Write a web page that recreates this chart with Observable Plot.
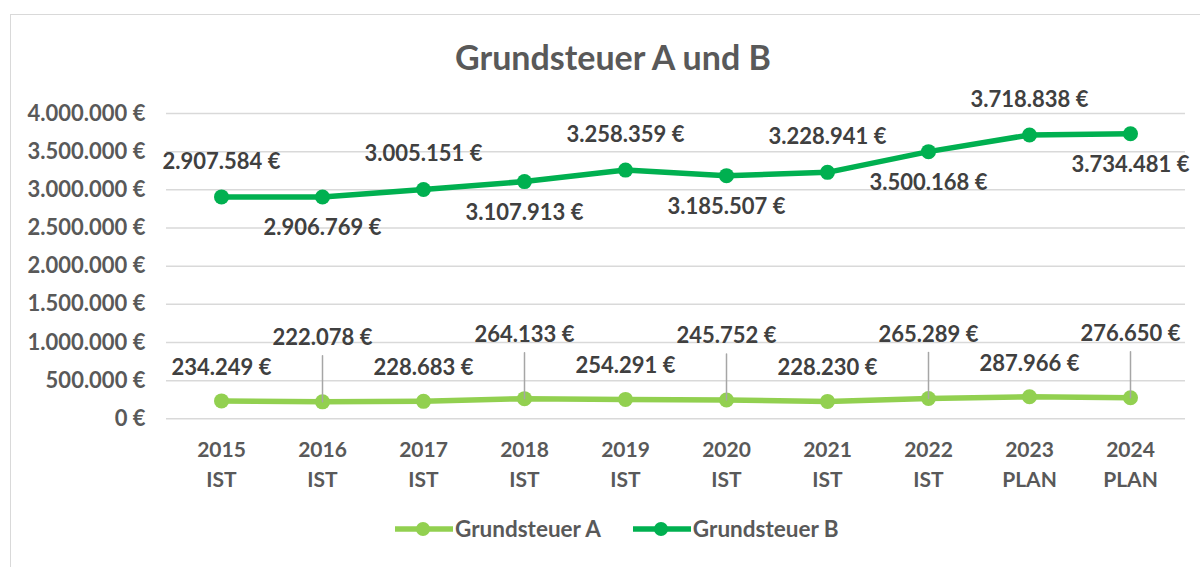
<!DOCTYPE html>
<html>
<head>
<meta charset="utf-8">
<script src="https://cdn.jsdelivr.net/npm/d3@7"></script>
<script src="https://cdn.jsdelivr.net/npm/@observablehq/plot@0.6"></script>
<style>
  html, body { margin: 0; padding: 0; background: #fff; overflow: hidden; }
  body { width: 1200px; height: 567px; position: relative; font-family: Lato, "Open Sans", sans-serif; }
  #frame { position: absolute; left: 10px; top: 14px; width: 1400px; height: 800px; border: 1.5px solid #d9d9d9; box-sizing: border-box; }
  #title { position: absolute; left: 0; width: 1226px; top: 36px; text-align: center; font-size: 34px; font-weight: bold; color: #595959; }
  #chart { position: absolute; left: 0; top: 0; }
  #legend { position: absolute; top: 515px; left: 395px; display: flex; align-items: center; font-size: 22.5px; font-weight: bold; color: #595959; }
  #legend .item { display: flex; align-items: center; margin-right: 32px; }
  #legend svg { margin-right: 2px; }
</style>
</head>
<body>
<div id="frame"></div>
<div id="title">Grundsteuer A und B</div>
<div id="chart"></div>
<div id="legend"></div>
<script>
const years = ["2015", "2016", "2017", "2018", "2019", "2020", "2021", "2022", "2023", "2024"];
const periods = ["IST", "IST", "IST", "IST", "IST", "IST", "IST", "IST", "PLAN", "PLAN"];
const valuesA = [234249, 222078, 228683, 264133, 254291, 245752, 228230, 265289, 287966, 276650];
const valuesB = [2907584, 2906769, 3005151, 3107913, 3258359, 3185507, 3228941, 3500168, 3718838, 3734481];
const yTicks = [0, 500000, 1000000, 1500000, 2000000, 2500000, 3000000, 3500000, 4000000];
const seriesNames = ["Grundsteuer A", "Grundsteuer B"];
const colorA = "#92D050";
const colorB = "#00B050";

const de = d3.formatLocale({decimal: ",", thousands: ".", grouping: [3], currency: ["", "€"]});
const fmt = v => de.format(",")(v) + " €";

const rows = years.map((y, i) => ({year: y, period: periods[i], A: valuesA[i], B: valuesB[i], i}));
const bUp = rows.filter(d => d.i % 2 === 0);
const bDown = rows.filter(d => d.i % 2 === 1);
const aNear = rows.filter(d => d.i % 2 === 0);
const aFar = rows.filter(d => d.i % 2 === 1);

const labelFont = {fontSize: 22, fontWeight: "bold", fill: "#404040"};
const leader = {draw(ctx, l) { ctx.moveTo(0, 0); ctx.lineTo(0, -l); }};

const chart = Plot.plot({
  width: 1200,
  height: 500,
  marginLeft: 166,
  marginRight: 15,
  marginTop: 113,
  marginBottom: 81.7,
  style: {fontFamily: "Lato, 'Open Sans', sans-serif", background: "transparent"},
  x: {type: "point", domain: years, padding: 0.5, axis: null},
  y: {domain: [0, 4000000], axis: null},
  marks: [
    Plot.gridY(yTicks, {stroke: "#d9d9d9", strokeOpacity: 1, strokeWidth: 1.5}),
    Plot.axisY(yTicks, {tickSize: 0, tickPadding: 21, tickFormat: fmt, fontSize: 22, fontWeight: "bold", fill: "#595959", label: null}),
    Plot.text(rows, {x: "year", y: () => 0, text: "year", dy: 31, fontSize: 21, fontWeight: "bold", fill: "#595959"}),
    Plot.text(rows, {x: "year", y: () => 0, text: "period", dy: 61, fontSize: 21, fontWeight: "bold", fill: "#595959"}),
    Plot.line(rows, {x: "year", y: "A", stroke: colorA, strokeWidth: 5.5}),
    Plot.dot(rows, {x: "year", y: "A", r: 7.5, fill: colorA}),
    Plot.line(rows, {x: "year", y: "B", stroke: colorB, strokeWidth: 5.5}),
    Plot.dot(rows, {x: "year", y: "B", r: 7.5, fill: colorB}),
    Plot.vector(aFar, {x: "year", y: "A", length: 46, rotate: 0, anchor: "start", shape: leader, stroke: "#a6a6a6", strokeWidth: 1.5}),
    Plot.text(bUp, {x: "year", y: "B", text: d => fmt(d.B), dy: -35, ...labelFont}),
    Plot.text(bDown, {x: "year", y: "B", text: d => fmt(d.B), dy: 31, ...labelFont}),
    Plot.text(aNear, {x: "year", y: "A", text: d => fmt(d.A), dy: -33, ...labelFont}),
    Plot.text(aFar, {x: "year", y: "A", text: d => fmt(d.A), dy: -64, ...labelFont})
  ]
});
document.getElementById("chart").appendChild(chart);

const legend = document.getElementById("legend");
[[seriesNames[0], colorA], [seriesNames[1], colorB]].forEach(([name, c]) => {
  const item = document.createElement("div");
  item.className = "item";
  item.innerHTML = `<svg width="58" height="20"><line x1="1" y1="10" x2="57" y2="10" stroke="${c}" stroke-width="5.5" stroke-linecap="round"/><circle cx="28" cy="10" r="7" fill="${c}"/></svg><span>${name}</span>`;
  legend.appendChild(item);
});
</script>
</body>
</html>
